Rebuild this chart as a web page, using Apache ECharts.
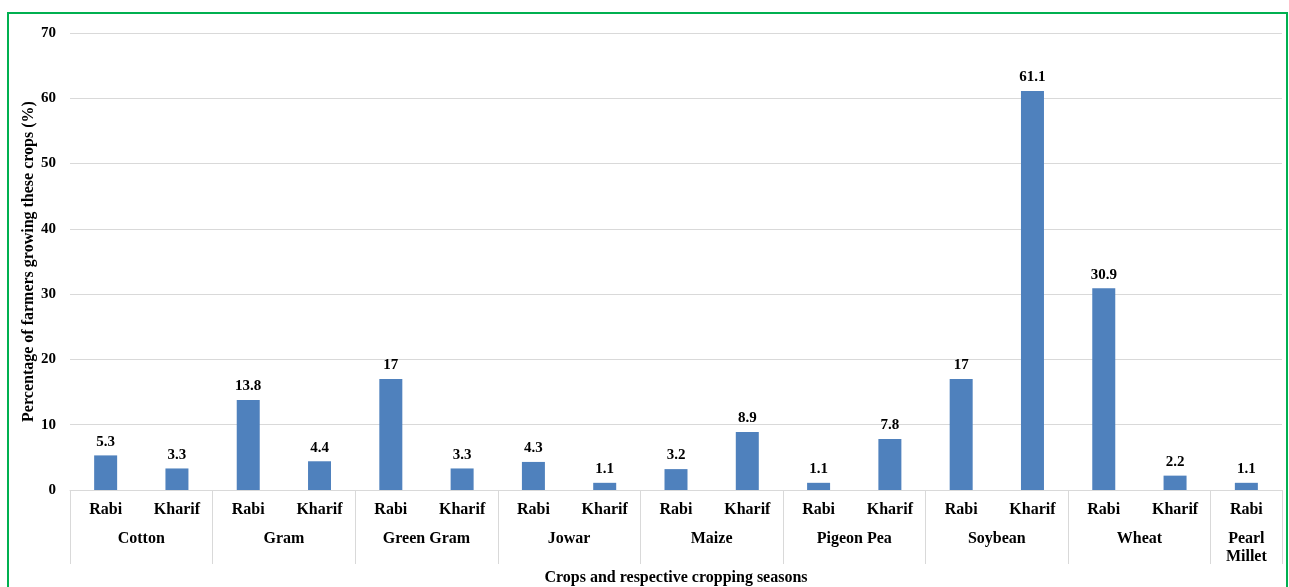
<!DOCTYPE html>
<html>
<head>
<meta charset="utf-8">
<script src="https://cdn.jsdelivr.net/npm/echarts@6/dist/echarts.min.js"></script>
<style>
  html, body { margin: 0; padding: 0; background: #fff; }
  #wrap { position: relative; width: 1289px; height: 587px; overflow: hidden; }
  #chart { position: absolute; left: 0; top: 0; width: 1289px; height: 587px; }
  #frame { position: absolute; left: 7px; top: 12px; width: 1277px; height: 600px;
           border: 2px solid #00b050; pointer-events: none; }
</style>
</head>
<body>
<div id="wrap">
  <div id="chart"></div>
  <div id="frame"></div>
</div>
<script>
// crops, and the share of farmers growing each in rabi / kharif (%)
var crops = ['Cotton', 'Gram', 'Green Gram', 'Jowar', 'Maize', 'Pigeon Pea', 'Soybean', 'Wheat', 'Pearl Millet'];
var rabi = [5.3, 13.8, 17, 4.3, 3.2, 1.1, 17, 30.9, 1.1];
var kharif = [3.3, 4.4, 3.3, 1.1, 8.9, 7.8, 61.1, 2.2, null];
var yTicks = [0, 10, 20, 30, 40, 50, 60, 70];

var FONT = "'Liberation Serif', 'Times New Roman', serif";

// flatten into one bar per crop/season
var seasons = [], values = [], groupCenters = [], groupEdges = [0];
var pos = 0;
for (var i = 0; i < crops.length; i++) {
	var n = 0;
	seasons.push('Rabi'); values.push(rabi[i]); n++;
	if (kharif[i] != null) { seasons.push('Kharif'); values.push(kharif[i]); n++; }
	groupCenters.push(pos + n / 2);
	pos += n;
	groupEdges.push(pos);
}

var chart = echarts.init(document.getElementById('chart'));
chart.setOption({
	animation: false,
	grid: { left: 70, right: 7, top: 33, bottom: 97, outerBoundsMode: 'none', containLabel: false },
	xAxis: [{
		type: 'category',
		data: seasons,
		position: 'bottom',
		axisLine: { lineStyle: { color: '#d9d9d9', width: 1 } },
		axisTick: { show: false },
		axisLabel: { color: '#000', fontFamily: FONT, fontWeight: 'bold', fontSize: 16, margin: 12, interval: 0 }
	}, {
		type: 'value',
		min: 0,
		max: values.length,
		position: 'bottom',
		axisLine: { show: false },
		splitLine: { show: false },
		axisTick: {
			show: true, length: 74, customValues: groupEdges,
			lineStyle: { color: '#d9d9d9', width: 1 }
		},
		axisLabel: {
			customValues: groupCenters,
			color: '#000', fontFamily: FONT, fontWeight: 'bold', fontSize: 16,
			margin: 40, lineHeight: 18, verticalAlign: 'top',
			formatter: function (v) {
				var k = groupCenters.indexOf(v);
				if (k < 0) return '';
				var name = crops[k];
				// single-bar group is too narrow: wrap onto two lines
				return (groupEdges[k + 1] - groupEdges[k] < 2) ? name.replace(' ', '\n') : name;
			}
		},
		name: 'Crops and respective cropping seasons',
		nameLocation: 'middle',
		nameMoveOverlap: false,
		nameGap: 80,
		nameTextStyle: { color: '#000', fontFamily: FONT, fontWeight: 'bold', fontSize: 16 }
	}],
	yAxis: {
		type: 'value',
		min: yTicks[0],
		max: yTicks[yTicks.length - 1],
		interval: 10,
		axisLine: { show: false },
		axisTick: { show: false },
		splitLine: { lineStyle: { color: '#d9d9d9', width: 1 } },
		axisLabel: { color: '#000', fontFamily: FONT, fontWeight: 'bold', fontSize: 15, margin: 14 },
		name: 'Percentage of farmers growing these crops (%)',
		nameLocation: 'middle',
		nameMoveOverlap: false,
		nameGap: 33,
		nameTextStyle: { color: '#000', fontFamily: FONT, fontWeight: 'bold', fontSize: 16 }
	},
	series: [{
		type: 'bar',
		data: values,
		barWidth: 23,
		itemStyle: { color: '#4f81bd' },
		label: {
			show: true, position: 'top', distance: 6,
			color: '#000', fontFamily: FONT, fontWeight: 'bold', fontSize: 15
		}
	}]
});
</script>
</body>
</html>
